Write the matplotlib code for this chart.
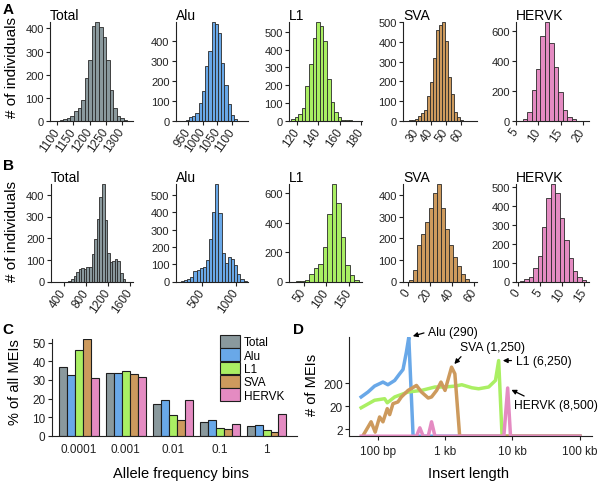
import numpy as np
import matplotlib.pyplot as plt
from matplotlib.ticker import FixedLocator, FixedFormatter, NullLocator

plt.rcParams['font.family'] = ['Liberation Sans', 'DejaVu Sans']
plt.rcParams['axes.linewidth'] = 0.8

W, H = 604, 485

me_types = ['Total', 'Alu', 'L1', 'SVA', 'HERVK']
me_colors = ['#8a999d', '#69a8e8', '#aaef63', '#cd9a5d', '#e48bc2']

# A: number of MEIs per individual (histogram counts, bin range)
a_total = [5, 8, 12, 22, 42, 55, 90, 185, 265, 410, 428, 405, 365, 265, 135, 55, 22, 10, 3]
a_total_rng = (1108, 1317)
a_alu = [5, 18, 25, 40, 88, 150, 275, 350, 495, 485, 440, 290, 180, 85, 30, 8]
a_alu_rng = (942, 1118)
a_l1 = [10, 22, 40, 70, 195, 320, 465, 555, 530, 450, 235, 105, 48, 20, 5, 3, 2]
a_l1_rng = (114, 171.8)
a_sva = [3, 5, 8, 22, 38, 55, 125, 198, 318, 462, 485, 502, 405, 222, 134, 43, 17, 6]
a_sva_rng = (25, 61)
a_hervk = [9, 56, 202, 348, 566, 658, 521, 360, 191, 72, 22, 9]
a_hervk_rng = (6.5, 18.5)

# B: second set of per-individual counts
b_total = [3, 10, 25, 45, 58, 62, 58, 65, 68, 125, 195, 290, 390, 450, 285, 130, 92, 95, 105, 95, 40, 12]
b_total_rng = (480, 1514)
b_alu = [3, 6, 12, 25, 58, 68, 80, 82, 122, 245, 405, 565, 395, 165, 105, 140, 130, 95, 42, 15, 4]
b_alu_rng = (190, 1156)
b_l1 = [2, 5, 12, 50, 95, 118, 233, 462, 663, 535, 302, 110, 42, 8]
b_l1_rng = (32, 172)
b_sva = [6, 53, 167, 221, 275, 338, 411, 451, 342, 244, 167, 112, 73, 34, 11]
b_sva_rng = (1, 55)
b_hervk = [4, 12, 25, 71, 137, 289, 441, 518, 471, 339, 218, 123, 54, 25, 9]
b_hervk_rng = (0.5, 15.5)

a_xlims = [(1078, 1334), (908, 1154), (112.5, 181), (21.3, 70.7), (5, 21.4)]
a_xticks = [[1100, 1150, 1200, 1250, 1300], [950, 1000, 1050, 1100], [120, 140, 160, 180],
            [30, 40, 50, 60], [5, 10, 15, 20]]
a_yticks = [[0, 100, 200, 300, 400], [0, 100, 200, 300, 400], [0, 100, 200, 300, 400, 500],
            [0, 100, 200, 300, 400, 500], [0, 200, 400, 600]]
b_xlims = [(158, 1655), (113, 1176), (17, 179), (-4, 62.7), (-0.4, 16.2)]
b_xticks = [[400, 800, 1200, 1600], [500, 1000], [50, 100, 150], [0, 20, 40, 60], [0, 5, 10, 15]]
b_yticks = [[0, 100, 200, 300, 400], [0, 100, 200, 300, 400, 500], [0, 200, 400, 600],
            [0, 100, 200, 300, 400], [0, 100, 200, 300, 400, 500]]

# C: allele frequency spectrum (% of MEIs)
af_bins = ['0.0001', '0.001', '0.01', '0.1', '1']
pct_total = [36.7, 33.8, 16.8, 7.1, 5.0]
pct_alu = [32.5, 33.8, 19.0, 8.3, 5.9]
pct_l1 = [46.2, 34.9, 11.3, 4.1, 3.0]
pct_sva = [52.0, 33.0, 8.4, 3.5, 1.8]
pct_hervk = [30.8, 31.6, 19.0, 6.2, 11.6]

# D: insert length distribution (bp, # of MEIs)
alu_len = [57, 72, 90, 120, 142, 179, 212, 238, 267, 290, 336, 100000]
alu_n = [50, 82, 148, 221, 169, 259, 502, 771, 4340, 19200, 1, 1]
l1_len = [57, 90, 127, 139, 179, 283, 447, 709, 1000, 1413, 1772, 2500, 3150, 4440, 5600, 6250, 7020, 100000]
l1_n = [17, 36, 42, 28, 50, 82, 96, 135, 135, 148, 169, 125, 113, 135, 259, 1884, 1, 1]
sva_len = [60, 80, 92, 107, 120, 139, 151, 169, 200, 225, 283, 377, 447, 563, 631, 750, 871, 1000, 1250, 1400, 1650, 100000]
sva_n = [1, 4.2, 1.5, 6.8, 4.2, 15.6, 8.6, 25.6, 30.4, 50, 96, 158, 82, 45, 50, 96, 221, 96, 980, 502, 1, 1]
hervk_len = [57, 377, 423, 474, 563, 631, 709, 7460, 8500, 9370, 100000]
hervk_n = [1, 1, 2.3, 1, 1, 4.2, 1, 1, 122, 1, 1]
peak_labels = ['Alu (290)', 'L1 (6,250)', 'SVA (1,250)', 'HERVK (8,500)']


def px_axes(l, r, t, b):
    return fig.add_axes([l / W, 1 - b / H, (r - l) / W, (b - t) / H])


def style(ax, size=7.5):
    for s in ['top', 'right']:
        ax.spines[s].set_visible(False)
    for s in ['left', 'bottom']:
        ax.spines[s].set_color('#222222')
    ax.tick_params(labelsize=size, length=3, width=0.8, pad=1.5, colors='#222222')


fig = plt.figure(figsize=(W / 100, H / 100), dpi=100)

rows = [
    ([a_total, a_alu, a_l1, a_sva, a_hervk], [a_total_rng, a_alu_rng, a_l1_rng, a_sva_rng, a_hervk_rng],
     a_xlims, a_xticks, a_yticks, [50, 175.7, 289.3, 403.3, 516], [133, 248, 362, 477, 589], 23, 121.7),
    ([b_total, b_alu, b_l1, b_sva, b_hervk], [b_total_rng, b_alu_rng, b_l1_rng, b_sva_rng, b_hervk_rng],
     b_xlims, b_xticks, b_yticks, [50.7, 175.7, 289.3, 403.3, 516], [133, 248, 361.7, 477.3, 589.3], 185, 282.5),
]
for counts_list, rngs, xlims, xticks, yticks, lefts, rights, top, bot in rows:
    for i in range(5):
        ax = px_axes(lefts[i], rights[i], top, bot)
        counts = counts_list[i]
        edges = np.linspace(rngs[i][0], rngs[i][1], len(counts) + 1)
        ax.bar(edges[:-1], counts, width=np.diff(edges), align='edge',
               color=me_colors[i], edgecolor='#2a2a2a', linewidth=0.6)
        ax.set_xlim(*xlims[i])
        ax.set_ylim(0, max(counts))
        ax.set_yticks(yticks[i])
        ax.set_xticks(xticks[i])
        ax.set_xticklabels([str(v) for v in xticks[i]], rotation=55, ha='right',
                           va='center', rotation_mode='anchor')
        style(ax, 8)
        ax.tick_params(axis='x', pad=3, labelsize=8.5)
        ax.set_title(me_types[i], loc='left', fontsize=10, pad=1.5)

fig.text(12 / W, 1 - 68 / H, '# of individuals', rotation=90, ha='center', va='center', fontsize=11)
fig.text(12 / W, 1 - 231 / H, '# of individuals', rotation=90, ha='center', va='center', fontsize=11)

# C
axc = px_axes(51.7, 297, 340, 436.7)
x = np.arange(len(af_bins))
bw = 0.17
for j, vals in enumerate([pct_total, pct_alu, pct_l1, pct_sva, pct_hervk]):
    axc.bar(x + (j - 2) * bw, vals, width=bw, color=me_colors[j], edgecolor='#1e1e1e',
            linewidth=0.8, label=me_types[j])
axc.set_xlim(-0.58, 4.65)
axc.set_ylim(0, 52)
axc.set_yticks([0, 10, 20, 30, 40, 50])
axc.set_xticks(x)
axc.set_xticklabels(af_bins)
style(axc, 8.5)
axc.tick_params(axis='x', length=0, pad=5)
axc.legend(loc='upper left', bbox_to_anchor=(0.686, 1.04), frameon=False, fontsize=8.5,
           handlelength=1.7, handleheight=1.27, labelspacing=0, handletextpad=0.3,
           borderpad=0, borderaxespad=0)
fig.text(15 / W, 1 - 382 / H, '% of all MEIs', rotation=90, ha='center', va='center', fontsize=10.5)
fig.text(181 / W, 1 - 474 / H, 'Allele frequency bins', ha='center', va='center', fontsize=10.5)

# D
axd = px_axes(349.3, 591.7, 338.3, 436.7)
series = [(alu_len, alu_n, me_colors[1]), (l1_len, l1_n, me_colors[2]),
          (sva_len, sva_n, me_colors[3]), (hervk_len, hervk_n, me_colors[4])]
for lens, ns, c in series:
    axd.plot(lens, ns, color=c, lw=2.5, solid_joinstyle='round')
axd.set_xscale('log')
axd.set_yscale('log')
axd.set_xlim(38, 150000)
axd.set_ylim(1.05, 19200)
axd.xaxis.set_major_locator(FixedLocator([100, 1000, 10000, 100000]))
axd.xaxis.set_major_formatter(FixedFormatter(['100 bp', '1 kb', '10 kb', '100 kb']))
axd.yaxis.set_major_locator(FixedLocator([2, 20, 200]))
axd.yaxis.set_major_formatter(FixedFormatter(['2', '20', '200']))
axd.xaxis.set_minor_locator(NullLocator())
axd.yaxis.set_minor_locator(NullLocator())
style(axd, 8.5)
axd.tick_params(axis='x', pad=4)

ann_offsets = [(13.9, 4.0, 'left', (0, 0.5)), (12.2, 0, 'left', (0, 0.5)),
               (29.4, 14.6, 'center', (0.07, 0)), (4.8, -12.5, 'left', (0.2, 1))]
for (lens, ns, c), lab, (dx, dy, ha, rp) in zip(series, peak_labels, ann_offsets):
    k = int(np.argmax(ns))
    axd.annotate(lab, xy=(lens[k], ns[k]), xytext=(dx, dy), textcoords='offset points',
                 ha=ha, va='center', fontsize=8.7, annotation_clip=False,
                 arrowprops=dict(arrowstyle='-|>', color='black', lw=0.9, mutation_scale=7,
                                 shrinkA=1, shrinkB=3, relpos=rp))
fig.text(312 / W, 1 - 385 / H, '# of MEIs', rotation=90, ha='center', va='center', fontsize=10.5)
fig.text(468 / W, 1 - 474 / H, 'Insert length', ha='center', va='center', fontsize=10.5)

for lab, px, py in [('A', 8, 10), ('B', 8, 166), ('C', 8, 330), ('D', 298, 330)]:
    fig.text(px / W, 1 - py / H, lab, fontsize=11, fontweight='bold', ha='center', va='center')

fig.savefig('out.png', dpi=100)
